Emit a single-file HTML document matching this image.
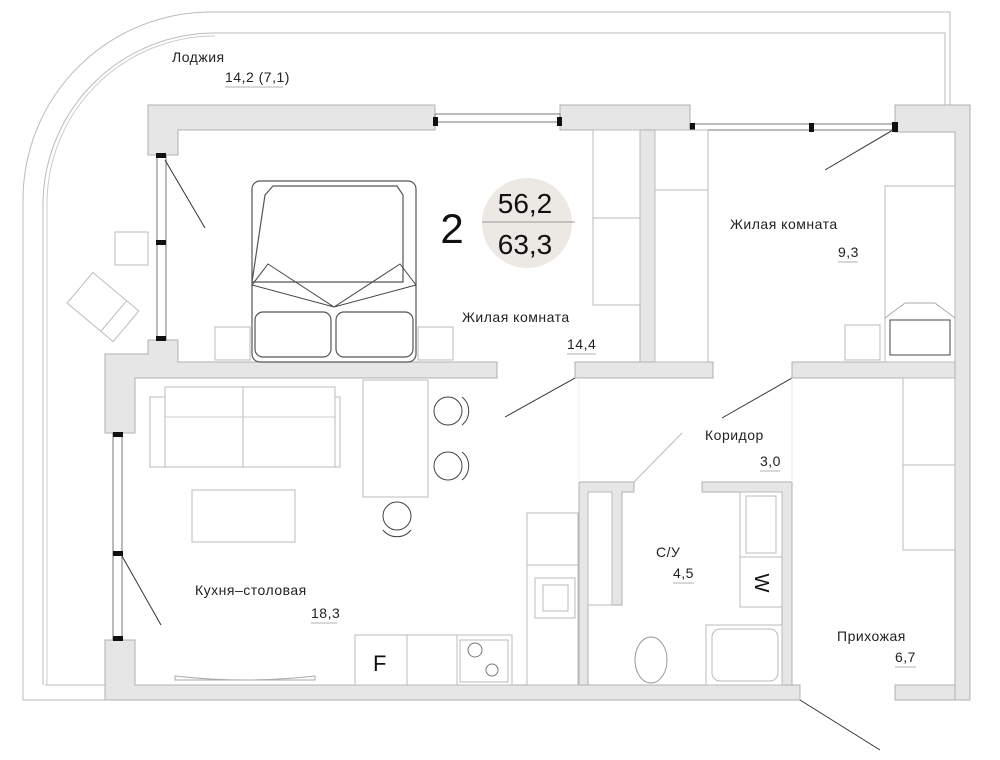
<!DOCTYPE html>
<html><head><meta charset="utf-8"><style>
html,body{margin:0;padding:0;background:#fff;}
svg{display:block;font-family:"Liberation Sans","DejaVu Sans",sans-serif;}
.w{fill:#e6e6e6;stroke:#b0b0b0;stroke-width:1}
.f{fill:#fff;stroke:#bbb;stroke-width:1}
.d{fill:#fff;stroke:#555;stroke-width:1.2}
.t{font-size:14px;fill:#222;letter-spacing:0.5px}
.u{stroke:#999;stroke-width:0.8}
</style></head><body>
<svg width="1000" height="760" viewBox="0 0 1000 760" xmlns="http://www.w3.org/2000/svg">
<!-- loggia outline -->
<path d="M23,700 L23,200 A188,188 0 0 1 211,12 L950,12 L950,107" fill="none" stroke="#bbb"/>
<path d="M43,685 L43,205 A172,172 0 0 1 215,33 L945,33 L945,107" fill="none" stroke="#bbb"/>
<path d="M47,685 L47,205 A168,168 0 0 1 215,36" fill="none" stroke="#ccc"/>
<line x1="23" y1="700" x2="105" y2="700" stroke="#bbb"/>
<line x1="45" y1="685" x2="105" y2="685" stroke="#bbb"/>
<!-- walls -->
<path class="w" d="M148,105 L435,105 L435,130 L178,130 L178,155 L148,155 Z"/>
<path class="w" d="M560,105 L690,105 L690,130 L560,130 Z"/>
<path class="w" d="M895,105 L970,105 L970,700 L955,700 L955,132 L895,132 Z"/>
<path class="w" d="M148,340 L178,340 L178,362 L497,362 L497,378 L135,378 L135,433 L105,433 L105,354 L148,354 Z"/>
<path class="w" d="M105,640 L135,640 L135,685 L800,685 L800,700 L105,700 Z"/>
<path class="w" d="M895,685 L955,685 L955,700 L895,700 Z"/>
<path class="w" d="M640,130 L655,130 L655,362 L640,362 Z"/>
<path class="w" d="M575,362 L713,362 L713,378 L575,378 Z"/>
<path class="w" d="M792,362 L955,362 L955,378 L792,378 Z"/>
<path class="w" d="M579,482 L634,482 L634,492 L622,492 L622,605 L588,605 L588,685 L579,685 Z"/>
<rect class="f" x="588" y="492" width="24" height="113" />
<path class="w" d="M702,482 L792,482 L792,685 L782,685 L782,492 L702,492 Z"/>
<!-- windows -->
<g stroke="#777" fill="#fff">
<rect x="435" y="114" width="125" height="8"/>
<rect x="690" y="124" width="205" height="6"/>
<rect x="157" y="155" width="9" height="185"/>
<rect x="113" y="433" width="9" height="207"/>
</g>
<g fill="#111">
<rect x="433" y="117" width="5" height="9"/><rect x="557" y="117" width="5" height="9"/>
<rect x="690" y="123" width="5" height="9"/><rect x="809" y="123" width="5" height="9"/><rect x="892" y="122" width="6" height="10"/>
<rect x="156" y="153" width="10" height="5"/><rect x="156" y="240" width="10" height="5"/><rect x="156" y="336" width="10" height="5"/>
<rect x="113" y="432" width="10" height="5"/><rect x="113" y="551" width="10" height="5"/><rect x="113" y="636" width="10" height="5"/>
</g>
<!-- doors -->
<g stroke="#333" stroke-width="1">
<line x1="165" y1="160" x2="205" y2="228"/>
<line x1="893" y1="130" x2="825" y2="170"/>
<line x1="575" y1="378" x2="505" y2="417"/>
<line x1="792" y1="378" x2="722" y2="418"/>
<line x1="122" y1="556" x2="161" y2="625"/>
<line x1="800" y1="700" x2="880" y2="750"/>
</g>
<line x1="634" y1="482" x2="682" y2="433" stroke="#bbb"/>
<line x1="579" y1="378" x2="579" y2="482" stroke="#eee"/>
<line x1="792" y1="378" x2="792" y2="482" stroke="#eee"/>
<!-- bedroom -->
<rect class="d" x="252" y="181" width="164" height="181" rx="8"/>
<path class="d" d="M265,195 L273,186 L397,186 L403,195 L403,282 L252,282 Z" fill="none"/>
<path d="M252,285 L268,264 L334,307 L400,264 L416,285 L334,307 Z M252,285 L334,307 L416,285" fill="none" stroke="#444"/>
<rect class="d" x="255" y="312" width="76" height="45" rx="8"/>
<rect class="d" x="336" y="312" width="77" height="45" rx="8"/>
<rect class="f" x="215" y="327" width="35" height="33"/>
<rect class="f" x="418" y="327" width="35" height="33"/>
<rect class="f" x="115" y="232" width="33" height="33"/>
<g transform="translate(103,307) rotate(40)"><rect class="f" x="-30" y="-20" width="60" height="40"/><line x1="14" y1="-20" x2="14" y2="20" stroke="#bbb"/></g>
<rect class="f" x="593" y="130" width="47" height="88"/><rect class="f" x="593" y="218" width="47" height="87"/>
<rect class="f" x="655" y="130" width="53" height="60"/><rect class="f" x="655" y="190" width="53" height="172"/>
<!-- right room -->
<rect class="f" x="885" y="186" width="70" height="176"/>
<path d="M885,318 L905,303 L935,303 L955,318" fill="none" stroke="#aaa"/>
<rect x="890" y="320" width="60" height="35" fill="#fff" stroke="#444"/>
<rect class="f" x="845" y="325" width="35" height="35"/>
<rect class="f" x="903" y="378" width="52" height="87"/><rect class="f" x="903" y="465" width="52" height="85"/>
<!-- kitchen -->
<rect class="f" x="150" y="397" width="190" height="70"/>
<rect class="f" x="165" y="387" width="170" height="80"/>
<line x1="243" y1="387" x2="243" y2="467" stroke="#bbb"/>
<line x1="165" y1="417" x2="335" y2="417" stroke="#ccc"/>
<rect class="f" x="192" y="490" width="103" height="52"/>
<rect class="f" x="363" y="380" width="65" height="117"/>
<g fill="#fff" stroke="#444"><circle cx="448" cy="411" r="14"/><circle cx="448" cy="466" r="14"/><circle cx="397" cy="516" r="14"/></g>
<g fill="none" stroke="#444"><path d="M462,397 A18,18 0 0 1 462,425"/><path d="M462,452 A18,18 0 0 1 462,480"/><path d="M383,530 A18,18 0 0 0 411,530"/></g>
<rect class="f" x="527" y="513" width="51" height="52"/><rect class="f" x="527" y="565" width="51" height="120"/>
<rect class="f" x="535" y="578" width="40" height="40" stroke="#888"/><rect class="f" x="543" y="585" width="25" height="26" stroke="#888"/>
<rect class="f" x="355" y="635" width="52" height="50"/><rect class="f" x="407" y="635" width="50" height="50"/><rect class="f" x="457" y="635" width="55" height="50"/>
<rect class="f" x="460" y="640" width="48" height="42" stroke="#888"/>
<circle cx="475" cy="650" r="7" fill="none" stroke="#777"/><circle cx="492" cy="670" r="6" fill="none" stroke="#777"/>
<text x="373" y="671" font-size="22" fill="#111">F</text>
<path d="M175,676 Q245,684 315,676 L315,680 L175,680 Z" fill="#fff" stroke="#aaa"/>
<!-- bathroom -->
<rect class="f" x="740" y="492" width="42" height="65" stroke="#888"/>
<rect class="f" x="746" y="496" width="30" height="57" stroke="#888"/>
<rect class="f" x="740" y="557" width="42" height="50"/>
<text x="762" y="583" font-size="20" fill="#111" text-anchor="middle" transform="rotate(90 762 583)" dy="7">W</text>
<rect class="f" x="706" y="625" width="76" height="60"/>
<rect class="f" x="712" y="629" width="66" height="52" rx="8" stroke="#999"/>
<ellipse cx="651" cy="660" rx="16" ry="23" fill="#fff" stroke="#999"/>
<!-- badge -->
<circle cx="527" cy="223" r="45" fill="#ece9e5"/>
<line x1="482" y1="222" x2="575" y2="222" stroke="#999"/>
<text x="452" y="243" font-size="42" fill="#111" text-anchor="middle">2</text>
<text x="525" y="213" font-size="28" fill="#111" text-anchor="middle">56,2</text>
<text x="525" y="254" font-size="28" fill="#111" text-anchor="middle">63,3</text>
<!-- labels -->
<text class="t" x="172" y="62">Лоджия</text>
<text class="t" x="225" y="82">14,2 (7,1)</text><line class="u" x1="225" y1="87" x2="283" y2="87"/>
<text class="t" x="730" y="229">Жилая комната</text>
<text class="t" x="838" y="257">9,3</text><line class="u" x1="838" y1="262" x2="858" y2="262"/>
<text class="t" x="462" y="322">Жилая комната</text>
<text class="t" x="567" y="349">14,4</text><line class="u" x1="567" y1="354" x2="596" y2="354"/>
<text class="t" x="705" y="440">Коридор</text>
<text class="t" x="760" y="466">3,0</text><line class="u" x1="760" y1="471" x2="780" y2="471"/>
<text class="t" x="656" y="557">С/У</text>
<text class="t" x="673" y="578">4,5</text><line class="u" x1="673" y1="583" x2="694" y2="583"/>
<text class="t" x="195" y="595">Кухня–столовая</text>
<text class="t" x="311" y="618">18,3</text><line class="u" x1="311" y1="623" x2="337" y2="623"/>
<text class="t" x="837" y="641">Прихожая</text>
<text class="t" x="895" y="662">6,7</text><line class="u" x1="895" y1="667" x2="916" y2="667"/>
</svg>
</body></html>
